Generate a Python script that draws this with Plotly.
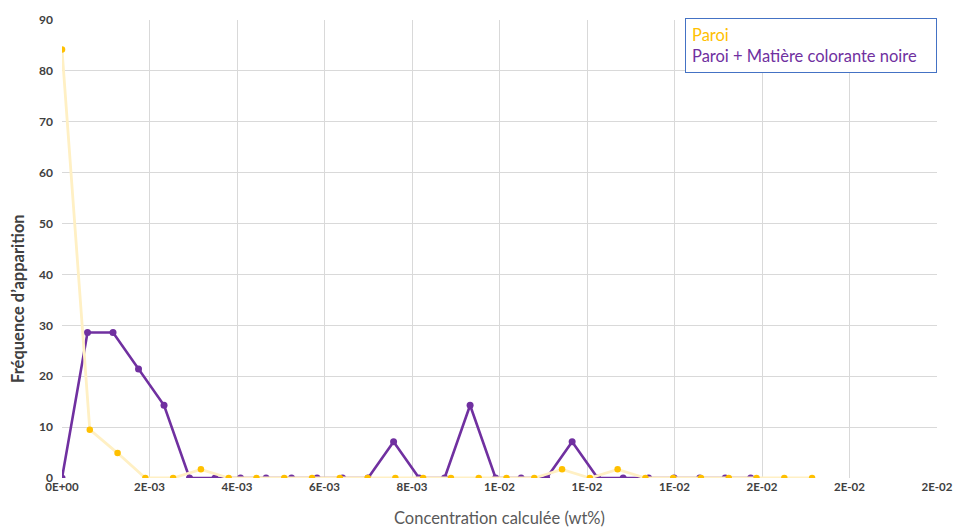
import plotly.graph_objects as go

# Data
paroi_x = [0, 0.000635, 0.00127, 0.001905, 0.00254, 0.003175, 0.00381, 0.004445,
           0.00508, 0.005715, 0.00635, 0.006985, 0.00762, 0.008255, 0.00889, 0.009525,
           0.01016, 0.010795, 0.01143, 0.012065, 0.0127, 0.013335, 0.01397, 0.014605,
           0.01524, 0.015875, 0.01651, 0.017145]
paroi_y = [84.2, 9.5, 4.9, 0, 0, 1.7, 0, 0, 0, 0, 0, 0, 0, 0, 0, 0,
           0, 0, 1.7, 0, 1.7, 0, 0, 0, 0, 0, 0, 0]

noire_x = [0, 0.000583, 0.001166, 0.001749, 0.002332, 0.002915, 0.003498, 0.004081,
           0.004664, 0.005247, 0.00583, 0.006413, 0.006996, 0.007579, 0.008162, 0.008745,
           0.009328, 0.009911, 0.010494, 0.011077, 0.01166, 0.012243, 0.012826, 0.013409,
           0.013992, 0.014575, 0.015158, 0.015741]
noire_y = [0, 28.6, 28.6, 21.4, 14.3, 0, 0, 0, 0, 0, 0, 0, 0, 7.1, 0, 0,
           14.3, 0, 0, 0, 7.1, 0, 0, 0, 0, 0, 0, 0]

x_tickvals = [0, 0.002, 0.004, 0.006, 0.008, 0.010, 0.012, 0.014, 0.016, 0.018, 0.020]
x_ticktext = ["0E+00", "2E-03", "4E-03", "6E-03", "8E-03", "1E-02", "1E-02", "1E-02",
              "2E-02", "2E-02", "2E-02"]
y_tickvals = [0, 10, 20, 30, 40, 50, 60, 70, 80, 90]

FONT = "Lato"

fig = go.Figure()
fig.add_trace(go.Scatter(
    x=noire_x, y=noire_y, mode="lines+markers",
    name="Paroi + Matière colorante noire",
    line=dict(color="#7030A0", width=2.6),
    marker=dict(color="#7030A0", size=7, symbol="circle"),
))
fig.add_trace(go.Scatter(
    x=paroi_x, y=paroi_y, mode="lines+markers",
    name="Paroi",
    line=dict(color="#FFF0C4", width=2.8),
    marker=dict(color="#FFC000", size=6.5, symbol="circle"),
))

fig.update_layout(
    width=955, height=527,
    margin=dict(l=62, r=18, t=20, b=49),
    plot_bgcolor="white", paper_bgcolor="white",
    showlegend=False,
    font=dict(family=FONT, color="#595959"),
    xaxis=dict(
        range=[0, 0.020], tickvals=x_tickvals, ticktext=x_ticktext,
        showgrid=True, gridcolor="#D9D9D9", gridwidth=1.3,
        zeroline=False, showline=False, automargin=False,
        tickfont=dict(family=FONT, size=11.5, color="#404040", weight="bold"),
    ),
    yaxis=dict(
        range=[0, 90], tickvals=y_tickvals,
        showgrid=True, gridcolor="#D9D9D9", gridwidth=1.3,
        zeroline=False, showline=False, automargin=False,
        ticklabelstandoff=8,
        tickfont=dict(family=FONT, size=12, color="#404040", weight="bold"),
    ),
    annotations=[
        dict(
            xref="paper", yref="paper", x=1.0, y=1.004,
            xanchor="right", yanchor="top", align="left", showarrow=False,
            text=('<span style="color:#FFC000">Paroi</span><br>'
                  '<span style="color:#7030A0">Paroi + Matière colorante noire</span>'),
            font=dict(family=FONT, size=16.5), width=238,
            bordercolor="#4472C4", borderwidth=1, borderpad=6, bgcolor="white",
        ),
        dict(
            xref="paper", yref="paper", x=0.5, y=-0.087,
            xanchor="center", yanchor="middle", showarrow=False,
            text="Concentration calculée (wt%)",
            font=dict(family=FONT, size=16.5, color="#595959"),
        ),
        dict(
            xref="paper", yref="paper", x=-0.0503, y=0.393,
            xanchor="center", yanchor="middle", showarrow=False, textangle=-90,
            text="Fréquence d’apparition",
            font=dict(family=FONT, size=16.5, color="#404040", weight="bold"),
        ),
    ],
)

fig.write_html(
    "out.html",
    config={"displayModeBar": False},
    post_script=("document.body.style.margin='0';"
                 "document.documentElement.style.overflow='hidden';"
                 "document.body.style.overflow='hidden';"),
)
